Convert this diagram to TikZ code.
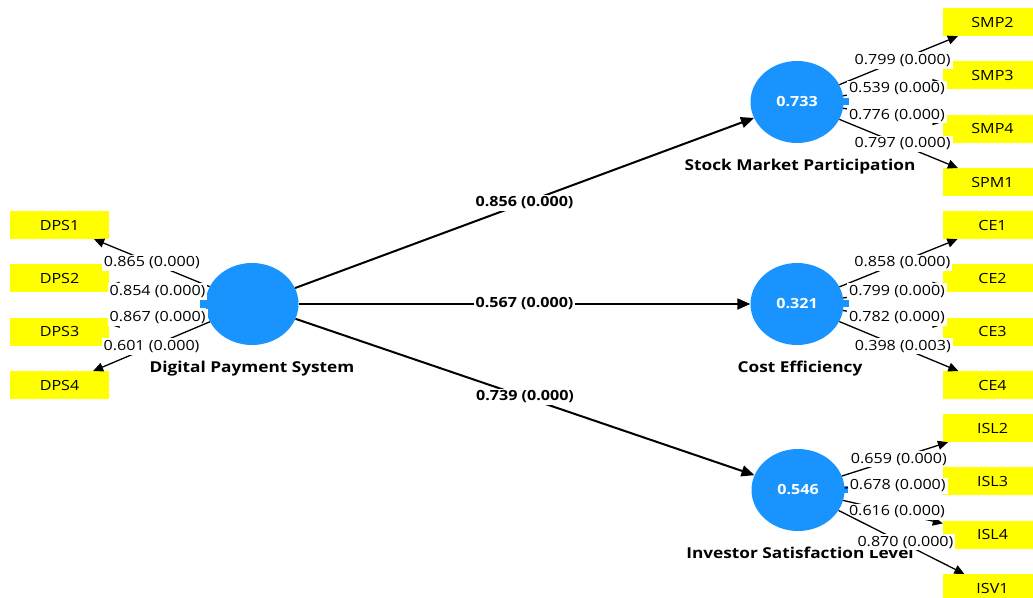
\documentclass[tikz,border=0pt]{standalone}
\usepackage{fontspec}
\setmainfont{Open Sans}[FakeStretch=1.15]
\usepackage{tikz}
\usetikzlibrary{shapes,arrows,arrows.meta,positioning}
\definecolor{lvblue}{RGB}{25,148,255}
\definecolor{mvyellow}{RGB}{255,255,0}
\tikzstyle{latent} = [ellipse, fill=lvblue, minimum width=93pt, minimum height=82pt, inner sep=0pt, text=white, font=\fontsize{14}{16}\selectfont\bfseries]
\tikzstyle{indicator} = [rectangle, fill=mvyellow, minimum width=99pt, minimum height=28pt, inner sep=0pt, font=\fontsize{14}{16}\selectfont]
\tikzstyle{lvname} = [font=\fontsize{15}{17}\selectfont\bfseries, inner sep=1pt]
\tikzstyle{loading} = [fill=white, inner sep=2pt, font=\fontsize{14}{16}\selectfont]
\tikzstyle{loadingR} = [loading, xshift=4pt]
\tikzstyle{coef} = [fill=white, inner sep=2pt, font=\fontsize{14}{16}\selectfont\bfseries]
\tikzstyle{line} = [draw, line width=1.3pt, -{Triangle[length=10pt,width=9pt]}]
\tikzstyle{pathline} = [draw, line width=2pt, -{Triangle[length=13pt,width=11pt]}]

\begin{document}
\begin{tikzpicture}[x=1pt, y=-1pt, node distance = 25pt]
  \useasboundingbox (0,0) rectangle (1033,597);

    % latent variables
    \node [latent] (dps) at (252,304) {};
    \node [latent] (smp) at (797,102) {0.733};
    \node [latent] (ce) at (797,304) {0.321};
    \node [latent] (isl) at (798,490) {0.546};

    % indicators
    \node [indicator] (dps1) at (59.5,225) {DPS1};
    \node [indicator, below = of dps1] (dps2) {DPS2};
    \node [indicator, below = of dps2] (dps3) {DPS3};
    \node [indicator, below = of dps3] (dps4) {DPS4};

    \node [indicator] (smp2) at (992.5,22) {SMP2};
    \node [indicator, below = of smp2] (smp3) {SMP3};
    \node [indicator, below = of smp3] (smp4) {SMP4};
    \node [indicator, below = of smp4] (spm1) {SPM1};

    \node [indicator] (ce1) at (992.5,225) {CE1};
    \node [indicator, below = of ce1] (ce2) {CE2};
    \node [indicator, below = of ce2] (ce3) {CE3};
    \node [indicator, below = of ce3] (ce4) {CE4};

    \node [indicator] (isl2) at (992.5,428) {ISL2};
    \node [indicator, below = of isl2] (isl3) {ISL3};
    \node [indicator, below = of isl3] (isl4) {ISL4};
    \node [indicator, below = of isl4] (isv1) {ISV1};

    % names
    \node [lvname, below = 15pt of dps] (dps_name) {Digital Payment System};
    \node [lvname, below = 15pt of smp, xshift=3pt] (smp_name) {Stock Market Participation};
    \node [lvname, below = 15pt of ce, xshift=3pt] (ce_name) {Cost Efficiency};
    \node [lvname, below = 15pt of isl, xshift=2pt] (isl_name) {Investor Satisfaction Level};

    % tabs
    \fill [lvblue] ([shift={(-5pt,-4pt)}]dps.west) rectangle ++(8pt,8pt);
    \fill [lvblue] ([shift={(-3pt,-3pt)}]smp.east) rectangle ++(8pt,7pt);
    \fill [lvblue] ([shift={(-3pt,-3pt)}]ce.east) rectangle ++(8pt,7pt);
    \fill [lvblue] ([shift={(-3pt,-3pt)}]isl.east) rectangle ++(8pt,7pt);

    % structural paths
    \path [pathline] (dps) -- node[coef, midway] {0.856 (0.000)} (smp);
    \path [pathline] (dps) -- node[coef, midway] {0.567 (0.000)} (ce);
    \path [pathline] (dps) -- node[coef, midway] {0.739 (0.000)} (isl);

    % outer loadings
    \path [line] (dps) -- node[loading, midway] {0.865 (0.000)} (dps1);
    \path [line] (dps) -- node[loading, midway] {0.854 (0.000)} (dps2);
    \path [line] (dps) -- node[loading, midway] {0.867 (0.000)} (dps3);
    \path [line] (dps) -- node[loading, midway] {0.601 (0.000)} (dps4);

    \path [line] (smp) -- node[loadingR, midway] {0.799 (0.000)} (smp2);
    \path [line] (smp) -- node[loadingR, midway] {0.539 (0.000)} (smp3);
    \path [line] (smp) -- node[loadingR, midway] {0.776 (0.000)} (smp4);
    \path [line] (smp) -- node[loadingR, midway] {0.797 (0.000)} (spm1);

    \path [line] (ce) -- node[loadingR, midway] {0.858 (0.000)} (ce1);
    \path [line] (ce) -- node[loadingR, midway] {0.799 (0.000)} (ce2);
    \path [line] (ce) -- node[loadingR, midway] {0.782 (0.000)} (ce3);
    \path [line] (ce) -- node[loadingR, midway] {0.398 (0.003)} (ce4);

    \path [line] (isl) -- node[loadingR, midway] {0.659 (0.000)} (isl2);
    \path [line] (isl) -- node[loadingR, midway] {0.678 (0.000)} (isl3);
    \path [line] (isl) -- node[loadingR, midway] {0.616 (0.000)} (isl4);
    \path [line] (isl) -- node[loadingR, midway] {0.870 (0.000)} (isv1);

\end{tikzpicture}
\end{document}
